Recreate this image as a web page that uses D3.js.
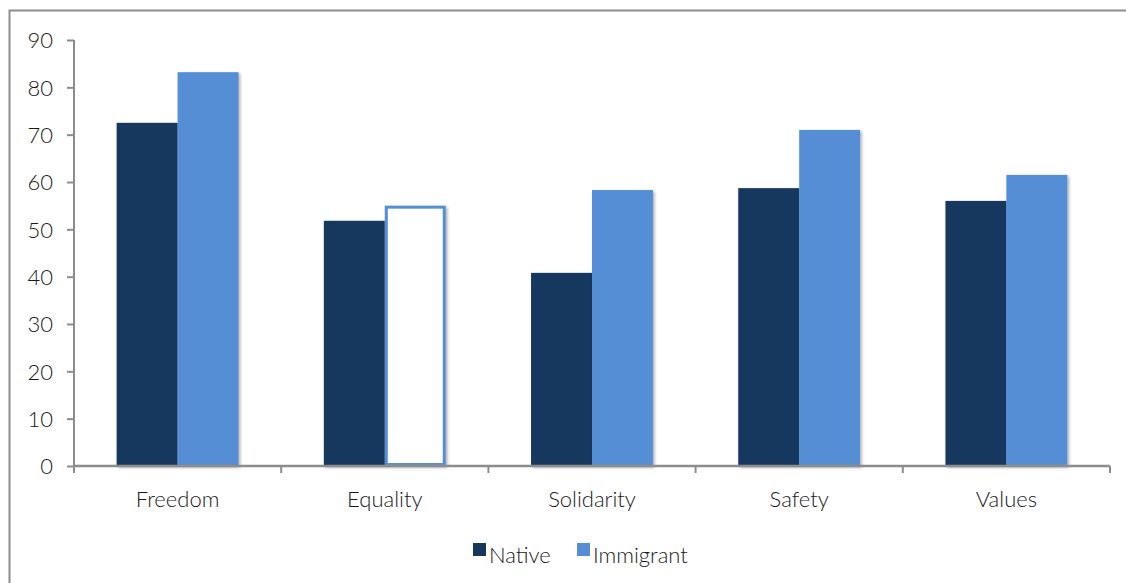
<!DOCTYPE html>
<html><head><meta charset="utf-8">
<script src="https://cdn.jsdelivr.net/npm/d3@7"></script>
<style>
html,body{margin:0;padding:0;background:#fff;}
text{font-family:Lato,"Open Sans",sans-serif;font-weight:300;fill:#1a1a1a;}
</style></head>
<body>
<svg id="c" width="1126" height="583"></svg>
<script>
const categories = ["Freedom","Equality","Solidarity","Safety","Values"];
const seriesNames = ["Native","Immigrant"];
const nativeValues = [72.5, 51.8, 40.8, 58.7, 56.0];
const immigrantValues = [83.2, 55.0, 58.3, 71.0, 61.5];
const yTicks = [0,10,20,30,40,50,60,70,80,90];
const colors = ["#17375e","#558ed5"];
const outlinedCategory = "Equality"; // immigrant bar drawn as outline only

const svg = d3.select("#c");
const W = 1126, H = 583;
const m = {left:74, right:16, top:40, bottom:117};

const defs = svg.append("defs");
const f = defs.append("filter").attr("id","sh").attr("x","-20%").attr("y","-20%").attr("width","140%").attr("height","140%");
f.append("feDropShadow").attr("dx",1.5).attr("dy",1.5).attr("stdDeviation",1.5).attr("flood-color","#000").attr("flood-opacity",0.35);

// outer frame (right and bottom edges fall outside the picture)
svg.append("rect").attr("x",9.5).attr("y",10.5).attr("width",W+20).attr("height",H+20).attr("fill","none").attr("stroke","#8c8c8c").attr("stroke-width",2);

const x0 = d3.scaleBand().domain(categories).range([m.left, W-m.right]).paddingInner(0).paddingOuter(0);
const x1 = d3.scaleBand().domain(seriesNames).range([0, x0.bandwidth()]).paddingInner(0).paddingOuter(0.7);
const y = d3.scaleLinear().domain([0,90]).range([H-m.bottom, m.top]);

// gridlines
svg.append("g").selectAll("line").data(yTicks.slice(1)).join("line")
  .attr("x1",m.left).attr("x2",W-m.right)
  .attr("y1",d=>y(d)).attr("y2",d=>y(d))
  .attr("stroke","#bfbfbf").attr("stroke-width",2).attr("filter","url(#sh)");

// bars
const data = [];
categories.forEach((c,i)=>{
  data.push({c, s:"Native", v:nativeValues[i]});
  data.push({c, s:"Immigrant", v:immigrantValues[i]});
});
const bars = svg.append("g");
data.forEach(d=>{
  const bx = x0(d.c)+x1(d.s), bw = x1.bandwidth();
  const isOutline = d.c===outlinedCategory && d.s==="Immigrant";
  if(isOutline){
    bars.append("rect").attr("x",bx+1.5).attr("y",y(d.v)+1.5).attr("width",bw-3).attr("height",y(0)-y(d.v)-3)
      .attr("fill","#fff").attr("stroke",colors[1]).attr("stroke-width",3).attr("filter","url(#sh)");
  } else {
    bars.append("rect").attr("x",bx).attr("y",y(d.v)).attr("width",bw).attr("height",y(0)-y(d.v))
      .attr("fill",colors[seriesNames.indexOf(d.s)]).attr("filter","url(#sh)");
  }
});

// y axis
const ya = svg.append("g").attr("transform",`translate(${m.left},0)`)
  .call(d3.axisLeft(y).tickValues(yTicks).tickSize(7).tickPadding(14).tickFormat(d3.format("d")));
ya.select(".domain").attr("stroke","#8c8c8c").attr("stroke-width",2).attr("d",`M0,${m.top}V${y(0)}`);
ya.selectAll(".tick line").attr("stroke","#8c8c8c").attr("stroke-width",2);
ya.selectAll(".tick text").style("font-size","22px").attr("fill","#1a1a1a").attr("dy","0.35em");

// x axis
const xa = svg.append("g").attr("transform",`translate(0,${y(0)})`);
xa.append("line").attr("x1",m.left).attr("x2",W-m.right).attr("y1",0).attr("y2",0).attr("stroke","#8c8c8c").attr("stroke-width",2.5);
const bounds = categories.map(c=>x0(c)).concat([W-m.right]);
xa.selectAll("line.t").data(bounds).join("line").attr("class","t")
  .attr("x1",d=>d).attr("x2",d=>d).attr("y1",0).attr("y2",7).attr("stroke","#8c8c8c").attr("stroke-width",2);
xa.selectAll("text").data(categories).join("text")
  .attr("x",c=>x0(c)+x0.bandwidth()/2).attr("y",41).attr("text-anchor","middle")
  .style("font-size","22px").text(c=>c);

// legend
const leg = svg.append("g");
const legItems = [{n:"Native",x:473,tx:489},{n:"Immigrant",x:577,tx:593}];
legItems.forEach((it,i)=>{
  leg.append("rect").attr("x",it.x).attr("y",543).attr("width",13).attr("height",13).attr("fill",colors[i]);
  leg.append("text").attr("x",it.tx).attr("y",563).style("font-size","22px").text(seriesNames[i]);
});
</script>
</body></html>
